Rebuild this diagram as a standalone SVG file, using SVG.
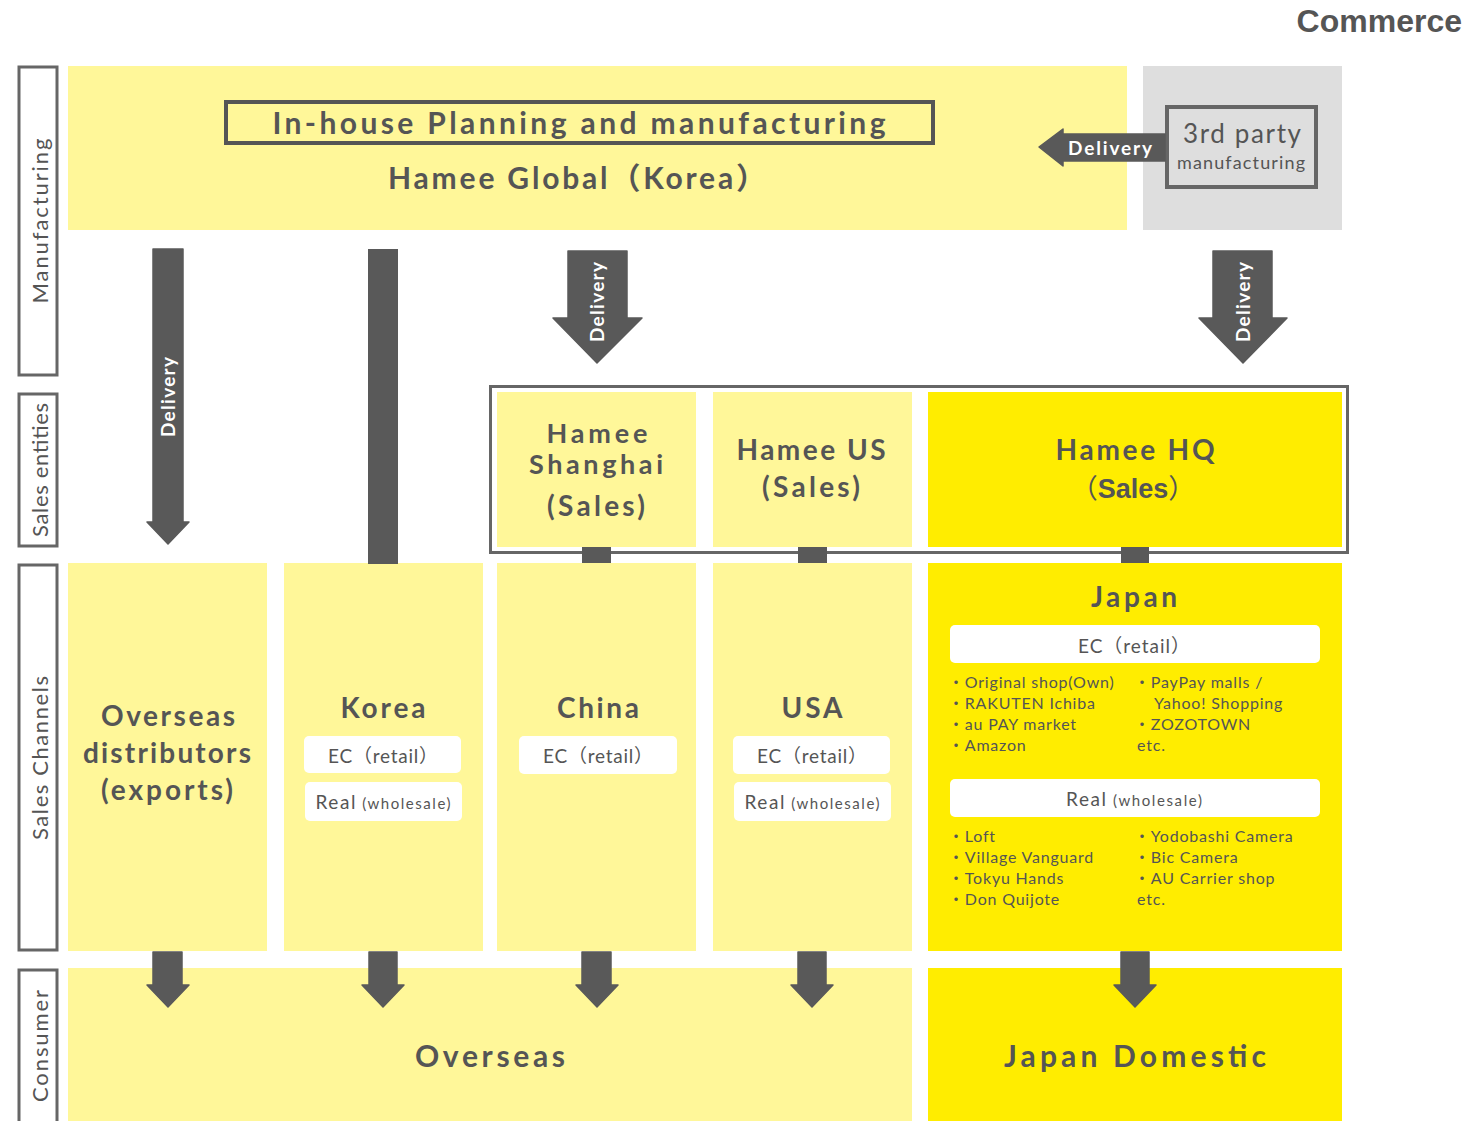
<svg xmlns="http://www.w3.org/2000/svg" width="1476" height="1121" viewBox="0 0 1476 1121">
<style>
.t{font-family:Lato,"Noto Sans","Noto Sans CJK JP",sans-serif;fill:#555;}
.b{font-weight:bold;}
.lbl{fill:#fff;stroke:#666;stroke-width:3;}
.pale{fill:#FFF799;}
.bright{fill:#FFED00;}
.pill{fill:#fff;}
.arr{fill:#595959;stroke:#595959;stroke-width:1.5;stroke-linejoin:round;}
.dl{font-family:Lato,"Noto Sans",sans-serif;font-weight:bold;font-size:19px;fill:#fff;}
</style>
<rect width="1476" height="1121" fill="#fff"/>
<text x="1462" y="32" text-anchor="end" font-family="Liberation Sans, Arial, sans-serif" font-weight="bold" font-size="32" fill="#555">Commerce</text>

<g id="row-labels">
<rect class="lbl" x="19" y="67" width="38" height="308"/>
<text class="t" font-size="22" text-anchor="middle" transform="translate(48,221) rotate(-90)" textLength="165" lengthAdjust="spacing">Manufacturing</text>
<rect class="lbl" x="19" y="394" width="38" height="152"/>
<text class="t" font-size="22" text-anchor="middle" transform="translate(48,470) rotate(-90)" textLength="134" lengthAdjust="spacing">Sales entities</text>
<rect class="lbl" x="19" y="565" width="38" height="385"/>
<text class="t" font-size="22" text-anchor="middle" transform="translate(48,758) rotate(-90)" textLength="164" lengthAdjust="spacing">Sales Channels</text>
<rect class="lbl" x="19" y="970" width="38" height="160"/>
<text class="t" font-size="22" text-anchor="middle" transform="translate(48,1046) rotate(-90)" textLength="112" lengthAdjust="spacing">Consumer</text>
</g>

<g id="hamee-global">
<rect class="pale" x="68" y="66" width="1059" height="164"/>
<rect x="226" y="102" width="707" height="41" fill="none" stroke="#555" stroke-width="4"/>
<text class="t b" x="579" y="134" font-size="30" text-anchor="middle" textLength="613" lengthAdjust="spacing">In-house Planning and manufacturing</text>
<text class="t b" x="577" y="189" font-size="30" text-anchor="middle" textLength="378" lengthAdjust="spacing">Hamee Global（Korea）</text>
</g>

<g id="third-party">
<rect x="1143" y="66" width="199" height="164" fill="#DEDEDE"/>
<rect x="1167" y="107" width="149" height="80" fill="none" stroke="#666" stroke-width="4"/>
<text class="t" x="1242" y="143" font-size="26" text-anchor="middle" textLength="118" lengthAdjust="spacing">3rd party</text>
<text class="t" x="1241" y="169" font-size="18" text-anchor="middle" textLength="128" lengthAdjust="spacing">manufacturing</text>
</g>

<g id="sales-entities">
<rect x="490.5" y="386.5" width="857" height="166" fill="#fff" stroke="#666" stroke-width="3"/>
<g id="hamee-shanghai">
<rect class="pale" x="497" y="392" width="199" height="155"/>
<text class="t b" x="597" y="443" font-size="27" text-anchor="middle" textLength="101" lengthAdjust="spacing">Hamee</text>
<text class="t b" x="596" y="474" font-size="27" text-anchor="middle" textLength="134" lengthAdjust="spacing">Shanghai</text>
<text class="t b" x="596" y="516" font-size="28" text-anchor="middle" textLength="98" lengthAdjust="spacing">(Sales)</text>
</g>
<g id="hamee-us">
<rect class="pale" x="713" y="392" width="199" height="155"/>
<text class="t b" x="811" y="460" font-size="28" text-anchor="middle" textLength="149" lengthAdjust="spacing">Hamee US</text>
<text class="t b" x="811" y="497" font-size="28" text-anchor="middle" textLength="98" lengthAdjust="spacing">(Sales)</text>
</g>
<g id="hamee-hq">
<rect class="bright" x="928" y="392" width="414" height="155"/>
<text class="t b" x="1135" y="460" font-size="28" text-anchor="middle" textLength="159" lengthAdjust="spacing">Hamee HQ</text>
<text class="t" x="1133" y="498" font-size="27" text-anchor="middle">（<tspan font-family="Liberation Sans, Arial, sans-serif" font-weight="bold">Sales</tspan>）</text>
</g>
</g>

<g id="overseas-distributors">
<rect class="pale" x="68" y="563" width="199" height="388"/>
<text class="t b" x="168" y="726" font-size="28" text-anchor="middle" textLength="134" lengthAdjust="spacing">Overseas</text>
<text class="t b" x="167" y="763" font-size="28" text-anchor="middle" textLength="168" lengthAdjust="spacing">distributors</text>
<text class="t b" x="167" y="800" font-size="28" text-anchor="middle" textLength="132" lengthAdjust="spacing">(exports)</text>
</g>

<g id="korea">
<rect class="pale" x="284" y="563" width="199" height="388"/>
<text class="t b" x="383" y="718" font-size="28" text-anchor="middle" textLength="85" lengthAdjust="spacing">Korea</text>
<rect class="pill" x="304" y="736" width="157" height="37" rx="5"/>
<text class="t" x="383" y="763" font-size="19" text-anchor="middle" textLength="110" lengthAdjust="spacing">EC（retail）</text>
<rect class="pill" x="305" y="782" width="157" height="39" rx="5"/>
<text class="t" x="383" y="809" font-size="19" text-anchor="middle" textLength="135" lengthAdjust="spacing">Real<tspan font-size="15"> (wholesale)</tspan></text>
</g>

<g id="china">
<rect class="pale" x="497" y="563" width="199" height="388"/>
<text class="t b" x="598" y="718" font-size="28" text-anchor="middle" textLength="82" lengthAdjust="spacing">China</text>
<rect class="pill" x="519" y="736" width="158" height="38" rx="5"/>
<text class="t" x="598" y="763" font-size="19" text-anchor="middle" textLength="110" lengthAdjust="spacing">EC（retail）</text>
</g>

<g id="usa">
<rect class="pale" x="713" y="563" width="199" height="388"/>
<text class="t b" x="812" y="718" font-size="28" text-anchor="middle" textLength="61" lengthAdjust="spacing">USA</text>
<rect class="pill" x="733" y="736" width="157" height="38" rx="5"/>
<text class="t" x="812" y="763" font-size="19" text-anchor="middle" textLength="110" lengthAdjust="spacing">EC（retail）</text>
<rect class="pill" x="734" y="782" width="157" height="39" rx="5"/>
<text class="t" x="812" y="809" font-size="19" text-anchor="middle" textLength="135" lengthAdjust="spacing">Real<tspan font-size="15"> (wholesale)</tspan></text>
</g>

<g id="japan">
<rect class="bright" x="928" y="563" width="414" height="388"/>
<text class="t b" x="1134" y="607" font-size="28" text-anchor="middle" textLength="86" lengthAdjust="spacing">Japan</text>
<rect class="pill" x="950" y="625" width="370" height="38" rx="5"/>
<text class="t" x="1134" y="653" font-size="19" text-anchor="middle" textLength="112" lengthAdjust="spacing">EC（retail）</text>
<g class="t" font-size="16" letter-spacing="0.8">
<text x="948" y="688">・Original shop(Own)</text>
<text x="948" y="709">・RAKUTEN Ichiba</text>
<text x="948" y="730">・au PAY market</text>
<text x="948" y="751">・Amazon</text>
<text x="1134" y="688">・PayPay malls /</text>
<text x="1154" y="709">Yahoo! Shopping</text>
<text x="1134" y="730">・ZOZOTOWN</text>
<text x="1137" y="751">etc.</text>
</g>
<rect class="pill" x="950" y="779" width="370" height="38" rx="5"/>
<text class="t" x="1134" y="806" font-size="19" text-anchor="middle" textLength="136" lengthAdjust="spacing">Real<tspan font-size="15"> (wholesale)</tspan></text>
<g class="t" font-size="16" letter-spacing="0.8">
<text x="948" y="842">・Loft</text>
<text x="948" y="863">・Village Vanguard</text>
<text x="948" y="884">・Tokyu Hands</text>
<text x="948" y="905">・Don Quijote</text>
<text x="1134" y="842">・Yodobashi Camera</text>
<text x="1134" y="863">・Bic Camera</text>
<text x="1134" y="884">・AU Carrier shop</text>
<text x="1137" y="905">etc.</text>
</g>
</g>

<g id="overseas-consumer">
<rect class="pale" x="68" y="968" width="844" height="153"/>
<text class="t b" x="490" y="1067" font-size="30" text-anchor="middle" textLength="150" lengthAdjust="spacing">Overseas</text>
</g>

<g id="japan-domestic">
<rect class="bright" x="928" y="968" width="414" height="153"/>
<text class="t b" x="1135" y="1067" font-size="30" text-anchor="middle" textLength="262" lengthAdjust="spacing">Japan Domestic</text>
</g>

<g id="connectors">
<path class="arr" d="M1039,147 L1063,129 L1063,134 L1165,134 L1165,161 L1063,161 L1063,166 Z"/>
<text class="dl" x="1110" y="155" text-anchor="middle" textLength="84" lengthAdjust="spacing">Delivery</text>
<path class="arr" d="M153,249 L183,249 L183,522 L189,522 L168,544 L147,522 L153,522 Z"/>
<text class="dl" text-anchor="middle" transform="translate(175,397) rotate(-90)" textLength="80" lengthAdjust="spacing">Delivery</text>
<rect x="368" y="249" width="30" height="315" fill="#595959"/>
<path class="arr" d="M568,251 L627,251 L627,318 L642,318 L597,363 L553,318 L568,318 Z"/>
<text class="dl" text-anchor="middle" transform="translate(604,302) rotate(-90)" textLength="80" lengthAdjust="spacing">Delivery</text>
<path class="arr" d="M1213,251 L1272,251 L1272,318 L1287,318 L1243,363 L1199,318 L1213,318 Z"/>
<text class="dl" text-anchor="middle" transform="translate(1250,302) rotate(-90)" textLength="80" lengthAdjust="spacing">Delivery</text>
<rect x="582" y="547" width="29" height="16" fill="#595959"/>
<rect x="798" y="547" width="29" height="16" fill="#595959"/>
<rect x="1121" y="547" width="28" height="16" fill="#595959"/>
<path class="arr" d="M153,952 L182,952 L182,985 L189,985 L168,1007 L147,985 L153,985 Z"/>
<path class="arr" d="M369,952 L397,952 L397,985 L404,985 L383,1007 L362,985 L369,985 Z"/>
<path class="arr" d="M582,952 L611,952 L611,985 L618,985 L597,1007 L576,985 L582,985 Z"/>
<path class="arr" d="M798,952 L826,952 L826,985 L833,985 L812,1007 L791,985 L798,985 Z"/>
<path class="arr" d="M1121,952 L1149,952 L1149,985 L1156,985 L1135,1007 L1114,985 L1121,985 Z"/>
</g>
</svg>
